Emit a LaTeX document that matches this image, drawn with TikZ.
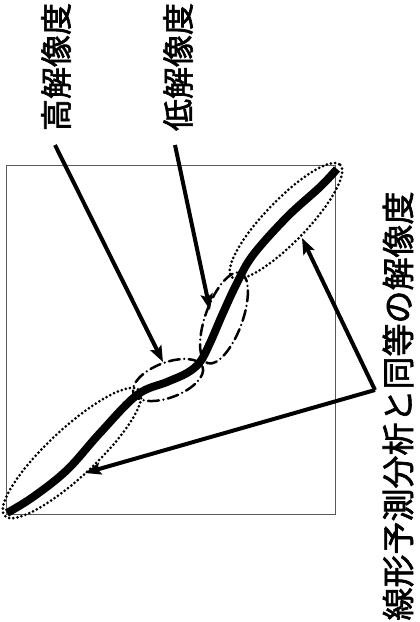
\documentclass[tikz,border=0pt]{standalone}
\usepackage{fontspec}
\newfontfamily\jp{Noto Sans CJK JP}[FakeBold=2]
\usetikzlibrary{arrows.meta}
\tikzset{
  lbl/.style={font=\jp\fontsize{32}{32}\selectfont, rotate=90, inner sep=0pt},
  lblbig/.style={font=\jp\fontsize{33}{33}\selectfont, rotate=90, inner sep=0pt},
  arr/.style={line width=4pt, -{Stealth[length=16pt,width=12pt,inset=3pt]}},
  frame/.style={draw=black!65, line width=0.9pt},
  dotsel/.style={line width=3pt, dash pattern=on 0pt off 4.2pt, line cap=round},
  dashdotel/.style={line width=2.5pt, dash pattern=on 11pt off 4.5pt on 0pt off 4.5pt, line cap=round},
  curve/.style={line width=8pt}
}
\begin{document}
\begin{tikzpicture}[x=1pt,y=-1pt]
\useasboundingbox (0,0) rectangle (420,622);
% frame
\draw[frame] (6,165) rectangle (335,514);
% ellipses
\draw[dotsel, rotate around={43:(72,453)}] (72,453) ellipse (92 and 24);
\draw[dotsel, rotate around={46:(286,221)}] (286,221) ellipse (78 and 21);
\draw[dashdotel, rotate around={21:(168,380)}] (168,380) ellipse (37 and 17.5);
\draw[dashdotel, rotate around={70:(224,318)}] (224,318) ellipse (48 and 18.5);
% curve
\draw[curve] plot[smooth, tension=0.6] coordinates {(7,513) (33,497) (67,470) (100,433) (137,395) (167,382) (187,373) (200,362) (210,343) (223,313) (237,283) (253,255) (287,217) (320,187) (337,169)};
% labels
\node[lbl] (hi) at (56,67) {高解像度};
\node[lbl] (lo) at (178,67) {低解像度};
\node[lblbig] (eq) at (398,406) {線形予測分析と同等の解像度};
% connector coordinates
\coordinate (hiS) at (55,145);
\coordinate (hiT) at (163,362);
\coordinate (loS) at (175,145);
\coordinate (loT) at (210,310);
\coordinate (eqV) at (375,390);
\coordinate (eqA) at (302,238);
\coordinate (eqB) at (85,473);
\draw[arr] (hiS) -- (hiT);
\draw[arr] (loS) -- (loT);
\draw[arr] (eqV) -- (eqA);
\draw[arr] (eqV) -- (eqB);
\end{tikzpicture}
\end{document}
